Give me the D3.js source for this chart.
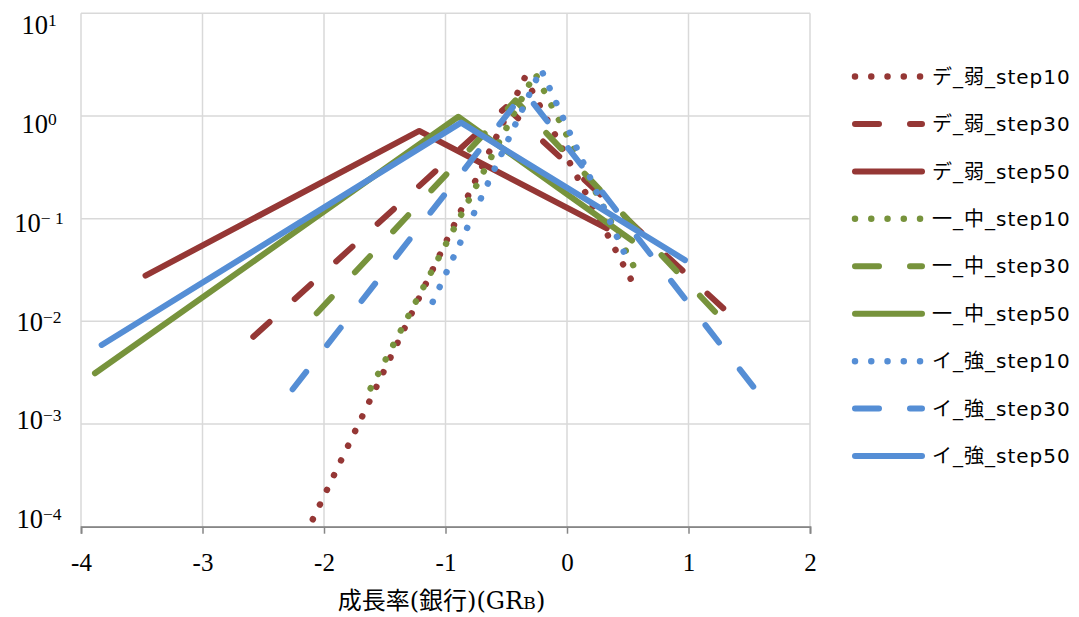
<!DOCTYPE html>
<html>
<head>
<meta charset="utf-8">
<script src="https://cdn.jsdelivr.net/npm/d3@7"></script>
<style>
  html, body { margin: 0; padding: 0; background: #fff; }
  svg { display: block; }
</style>
</head>
<body>
<svg id="chart" width="1079" height="617"></svg>
<script>
// ---------------- data ----------------
const xTicks = [-4, -3, -2, -1, 0, 1, 2];
const yTickValues = [10, 1, 0.1, 0.01, 0.001, 0.0001];
const yTickExponents = ["1", "0", "\u2212 1", "\u22122", "\u22123", "\u22124"];
const xAxisTitle = ["成長率(銀行)(GR", "B", ")"];

const seriesNames = [
  "デ_弱_step10", "デ_弱_step30", "デ_弱_step50",
  "一_中_step10", "一_中_step30", "一_中_step50",
  "イ_強_step10", "イ_強_step30", "イ_強_step50"
];

// [growth rate, value]
const deWeak10 = [[-2.15, 8.5e-5], [-0.346, 2.38], [0.532, 0.0249]];
const deWeak30 = [[-2.582, 0.00708], [-0.502, 1.22], [1.286, 0.0134]];
const deWeak50 = [[-3.469, 0.0279], [-1.216, 0.715], [0.327, 0.0805]];
const ichiMid10 = [[-1.616, 0.00223], [-0.263, 2.61], [0.593, 0.0272]];
const ichiMid30 = [[-2.060, 0.0120], [-0.424, 1.42], [1.218, 0.0124]];
const ichiMid50 = [[-3.885, 0.00312], [-0.895, 0.984], [0.535, 0.0612]];
const iStrong10 = [[-1.105, 0.0155], [-0.214, 2.85], [0.505, 0.0379]];
const iStrong30 = [[-2.258, 0.00218], [-0.349, 1.71], [1.533, 0.00231]];
const iStrong50 = [[-3.830, 0.00589], [-0.872, 0.861], [0.971, 0.0395]];

const seriesData = [deWeak10, deWeak30, deWeak50, ichiMid10, ichiMid30, ichiMid50, iStrong10, iStrong30, iStrong50];

// ---------------- styles ----------------
const groupColors = ["#953735", "#77933C", "#558ED5"];
const styleFor = i => ["dot", "dash", "solid"][i % 3];
const colorFor = i => groupColors[Math.floor(i / 3)];

const svg = d3.select("#chart");
const W = 1079, H = 617;
const plot = { left: 81, right: 810, top: 13.3, bottom: 526.7 };

const x = d3.scaleLinear().domain([-4, 2]).range([plot.left, plot.right]);
const y = d3.scaleLog().domain([1e-4, 10]).range([plot.bottom, plot.top]);
// label baselines (slightly compressed relative to gridlines, as in the reference)
const yLabel = d3.scaleLog().domain([1e-4, 10]).range([528, 34.3]);

svg.append("rect").attr("width", W).attr("height", H).attr("fill", "#fff");

// gridlines
const grid = svg.append("g");
grid.selectAll("line.v").data(xTicks).join("line")
  .attr("x1", d => x(d)).attr("x2", d => x(d))
  .attr("y1", plot.top).attr("y2", plot.bottom)
  .attr("stroke", "#d9d9d9").attr("stroke-width", 1.5);
grid.selectAll("line.h").data(yTickValues).join("line")
  .attr("x1", plot.left).attr("x2", plot.right)
  .attr("y1", d => y(d)).attr("y2", d => y(d))
  .attr("stroke", "#d9d9d9").attr("stroke-width", 1.5);

// x axis
const xAxis = svg.append("g")
  .attr("transform", `translate(0,${plot.bottom})`)
  .call(d3.axisBottom(x).tickValues(xTicks).tickSize(7).tickPadding(20).tickFormat(d => String(d)));
xAxis.select(".domain").attr("stroke", "#868686").attr("stroke-width", 1.8);
xAxis.selectAll(".tick line").attr("stroke", "#868686").attr("stroke-width", 1.5);
xAxis.selectAll(".tick text")
  .attr("font-family", "'Liberation Serif', 'DejaVu Serif', serif")
  .attr("font-size", 25).attr("fill", "#000");

// y labels
const yl = svg.append("g");
yTickValues.forEach((v, i) => {
  const t = yl.append("text")
    .attr("x", 39).attr("y", yLabel(v))
    .attr("text-anchor", "middle")
    .attr("font-family", "'Liberation Serif', 'DejaVu Serif', serif")
    .attr("fill", "#000");
  t.append("tspan").attr("font-size", 26.5).text("10");
  t.append("tspan").attr("font-size", 17.5).attr("dy", -8).text(yTickExponents[i]);
});

// x axis title
const xt = svg.append("text")
  .attr("x", (plot.left + plot.right) / 2 - 4).attr("y", 609)
  .attr("text-anchor", "middle")
  .attr("font-family", "'DejaVu Serif', 'Noto Sans CJK JP', serif")
  .attr("font-size", 24).attr("fill", "#000");
xt.append("tspan").text(xAxisTitle[0]);
xt.append("tspan").attr("font-size", 17.5).text(xAxisTitle[1]);
xt.append("tspan").text(xAxisTitle[2]);

// clip
svg.append("clipPath").attr("id", "plotclip").append("rect")
  .attr("x", plot.left).attr("y", plot.top)
  .attr("width", plot.right - plot.left).attr("height", plot.bottom - plot.top);

const line = d3.line().x(d => x(d[0])).y(d => y(d[1]));

function applyStyle(sel, i) {
  const s = styleFor(i);
  sel.attr("fill", "none")
    .attr("stroke", colorFor(i))
    .attr("stroke-linecap", "round")
    .attr("stroke-linejoin", "round");
  if (s === "dot") sel.attr("stroke-width", 6.5).attr("stroke-dasharray", "0.01,16.3");
  else if (s === "dash") sel.attr("stroke-width", 6).attr("stroke-dasharray", "22,34");
  else sel.attr("stroke-width", 6);
}

const lines = svg.append("g").attr("clip-path", "url(#plotclip)");
seriesData.forEach((data, i) => {
  lines.append("path").datum(data).attr("d", line).call(applyStyle, i);
});

// legend
const legend = svg.append("g");
const legY = d3.scaleLinear().domain([0, 8]).range([76.5, 456]);
seriesNames.forEach((name, i) => {
  const g = legend.append("g").attr("transform", `translate(0,${legY(i)})`);
  const s = styleFor(i);
  const ln = g.append("line").attr("y1", 0).attr("y2", 0);
  applyStyle(ln, i);
  if (s === "dot") ln.attr("x1", 855).attr("x2", 920.2).attr("stroke-dasharray", "0.01,16.25");
  else if (s === "dash") ln.attr("x1", 855).attr("x2", 922).attr("stroke-dasharray", "24,31");
  else ln.attr("x1", 855).attr("x2", 922);
  g.append("text")
    .attr("x", 932).attr("y", 0).attr("dy", "0.36em")
    .attr("font-family", "'DejaVu Sans', 'Noto Sans CJK JP', sans-serif")
    .attr("font-size", 20).attr("letter-spacing", 1).attr("fill", "#000")
    .text(name);
});
</script>
</body>
</html>
